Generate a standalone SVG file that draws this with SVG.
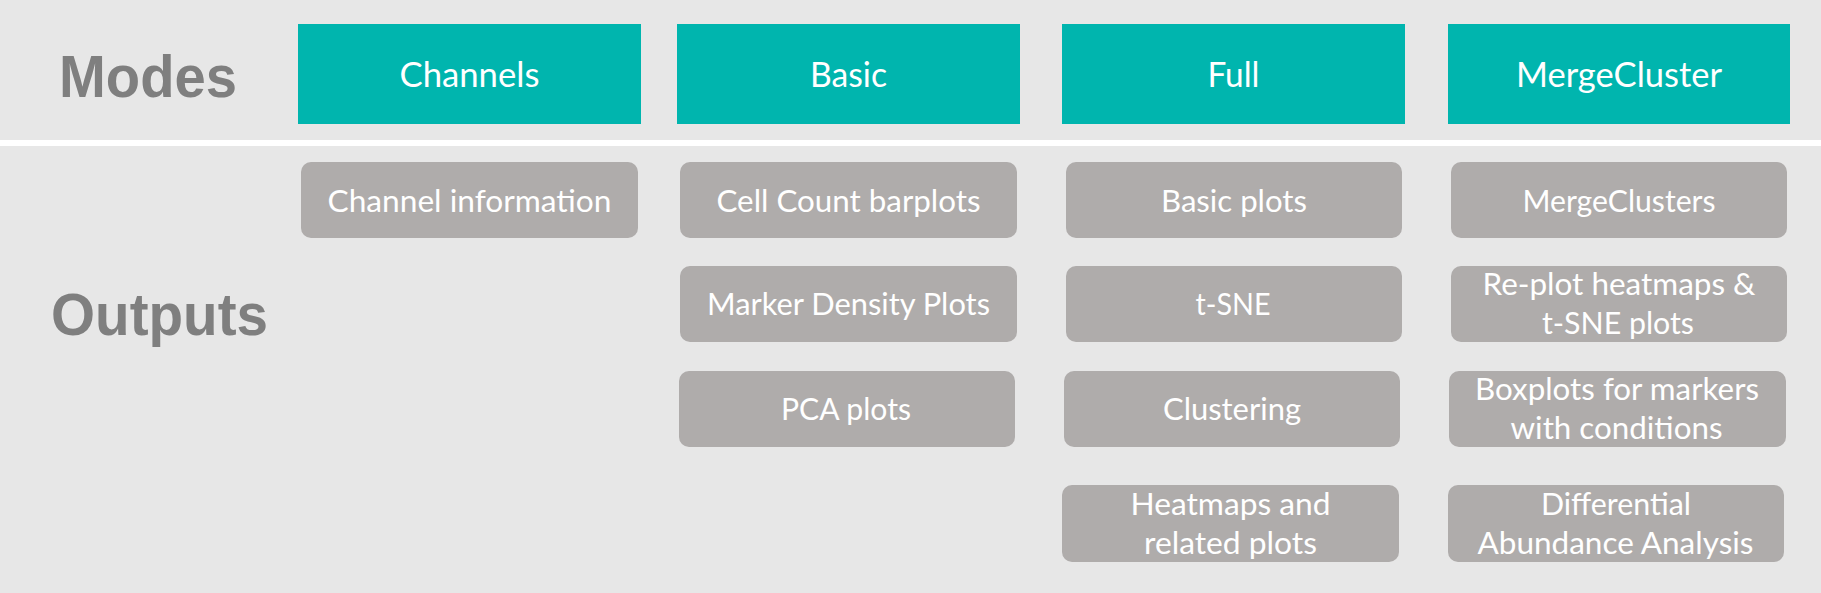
<svg xmlns="http://www.w3.org/2000/svg" width="1821" height="593" viewBox="0 0 1821 593">
<style>
.bg{fill:#e7e7e7}
.mode rect{fill:#00b5ae}
.mode text{fill:#ffffff;font-family:Lato,"Open Sans",sans-serif;font-size:34px;text-anchor:middle}
.out rect{fill:#afacab}
.out text{fill:#ffffff;font-family:Lato,"Open Sans",sans-serif;font-size:31px;text-anchor:middle}
.head{fill:#7f7f7f;font-family:"Liberation Sans",Arial,sans-serif;font-weight:bold;font-size:60px}
</style>
<rect class="bg" x="0" y="0" width="1821" height="593"/>
<rect x="0" y="140" width="1821" height="6" fill="#ffffff"/>
<text class="head" x="59" y="97" textLength="178" lengthAdjust="spacingAndGlyphs">Modes</text>
<text class="head" x="51" y="335" textLength="217" lengthAdjust="spacingAndGlyphs">Outputs</text>

<g id="mode-channels" class="mode"><rect x="298" y="24" width="343" height="100"/><text x="469.5" y="87" textLength="140" lengthAdjust="spacingAndGlyphs">Channels</text></g>
<g id="mode-basic" class="mode"><rect x="677" y="24" width="343" height="100"/><text x="848.5" y="87" textLength="77" lengthAdjust="spacingAndGlyphs">Basic</text></g>
<g id="mode-full" class="mode"><rect x="1062" y="24" width="343" height="100"/><text x="1233.5" y="87" textLength="52" lengthAdjust="spacingAndGlyphs">Full</text></g>
<g id="mode-mergecluster" class="mode"><rect x="1448" y="24" width="342" height="100"/><text x="1619" y="87" textLength="206" lengthAdjust="spacingAndGlyphs">MergeCluster</text></g>

<g id="out-channel-info" class="out"><rect x="301" y="162" width="337" height="76" rx="10"/><text x="469.5" y="212" textLength="284" lengthAdjust="spacingAndGlyphs">Channel information</text></g>
<g id="out-cell-count" class="out"><rect x="680" y="162" width="337" height="76" rx="10"/><text x="848.5" y="212" textLength="264" lengthAdjust="spacingAndGlyphs">Cell Count barplots</text></g>
<g id="out-basic-plots" class="out"><rect x="1066" y="162" width="336" height="76" rx="10"/><text x="1234" y="212" textLength="146" lengthAdjust="spacingAndGlyphs">Basic plots</text></g>
<g id="out-mergeclusters" class="out"><rect x="1451" y="162" width="336" height="76" rx="10"/><text x="1619" y="212" textLength="193" lengthAdjust="spacingAndGlyphs">MergeClusters</text></g>

<g id="out-marker-density" class="out"><rect x="680" y="266" width="337" height="76" rx="10"/><text x="848.5" y="315" textLength="283" lengthAdjust="spacingAndGlyphs">Marker Density Plots</text></g>
<g id="out-tsne" class="out"><rect x="1066" y="266" width="336" height="76" rx="10"/><text x="1233" y="315" textLength="75" lengthAdjust="spacingAndGlyphs">t-SNE</text></g>
<g id="out-replot" class="out"><rect x="1451" y="266" width="336" height="76" rx="10"/><text x="1619" y="295" textLength="273" lengthAdjust="spacingAndGlyphs">Re-plot heatmaps &amp;</text><text x="1618" y="334" textLength="152" lengthAdjust="spacingAndGlyphs">t-SNE plots</text></g>

<g id="out-pca" class="out"><rect x="679" y="371" width="336" height="76" rx="10"/><text x="846" y="420" textLength="130" lengthAdjust="spacingAndGlyphs">PCA plots</text></g>
<g id="out-clustering" class="out"><rect x="1064" y="371" width="336" height="76" rx="10"/><text x="1232" y="420" textLength="138" lengthAdjust="spacingAndGlyphs">Clustering</text></g>
<g id="out-boxplots" class="out"><rect x="1449" y="371" width="337" height="76" rx="10"/><text x="1617" y="400" textLength="284" lengthAdjust="spacingAndGlyphs">Boxplots for markers</text><text x="1616.5" y="439" textLength="212" lengthAdjust="spacingAndGlyphs">with conditions</text></g>

<g id="out-heatmaps" class="out"><rect x="1062" y="485" width="337" height="77" rx="10"/><text x="1230.5" y="515" textLength="200" lengthAdjust="spacingAndGlyphs">Heatmaps and</text><text x="1230.5" y="554" textLength="173" lengthAdjust="spacingAndGlyphs">related plots</text></g>
<g id="out-differential" class="out"><rect x="1448" y="485" width="336" height="77" rx="10"/><text x="1616" y="515" textLength="150" lengthAdjust="spacingAndGlyphs">Differential</text><text x="1615.5" y="554" textLength="276" lengthAdjust="spacingAndGlyphs">Abundance Analysis</text></g>
</svg>
